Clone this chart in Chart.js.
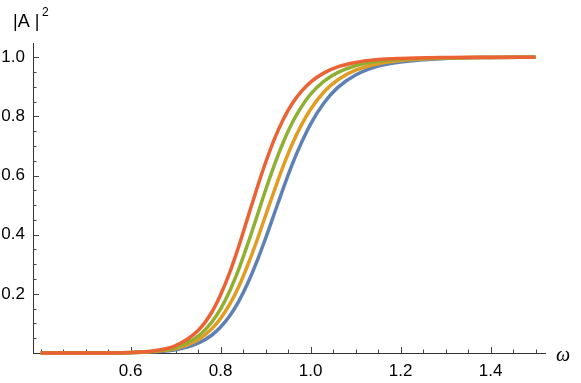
<!DOCTYPE html>
<html>
<head>
<meta charset="utf-8">
<script src="https://cdn.jsdelivr.net/npm/chart.js@4.4.1/dist/chart.umd.min.js"></script>
<style>
  body { margin: 0; background: #fff; }
  canvas { display: block; }
</style>
</head>
<body>
<canvas id="myChart" width="581" height="383"></canvas>
<script>
const omega = [0.40, 0.50, 0.60, 0.65, 0.70, 0.75, 0.78, 0.80, 0.82, 0.84, 0.86, 0.88, 0.90,
  0.92, 0.94, 0.96, 0.98, 1.00, 1.03, 1.06, 1.10, 1.15, 1.20, 1.30, 1.40, 1.50];

const blueVals = [0.000, 0.000, 0.001, 0.004, 0.011, 0.033, 0.060, 0.088, 0.125, 0.174, 0.235, 0.307, 0.388,
  0.474, 0.560, 0.641, 0.712, 0.774, 0.846, 0.897, 0.940, 0.970, 0.984, 0.996, 0.999, 1.000];
const orangeVals = [0.000, 0.000, 0.001, 0.005, 0.015, 0.045, 0.081, 0.117, 0.164, 0.223, 0.296, 0.377, 0.465,
  0.552, 0.635, 0.709, 0.772, 0.824, 0.883, 0.923, 0.956, 0.978, 0.989, 0.997, 0.999, 1.000];
const greenVals = [0.000, 0.000, 0.002, 0.006, 0.019, 0.057, 0.104, 0.149, 0.209, 0.282, 0.367, 0.458, 0.551,
  0.638, 0.715, 0.781, 0.833, 0.875, 0.919, 0.948, 0.971, 0.986, 0.993, 0.998, 0.999, 1.000];
const redVals = [0.000, 0.000, 0.002, 0.007, 0.025, 0.076, 0.137, 0.197, 0.271, 0.359, 0.456, 0.553, 0.644,
  0.725, 0.792, 0.845, 0.885, 0.916, 0.947, 0.967, 0.982, 0.992, 0.996, 0.999, 1.000, 1.000];

const xMajorTicks = [0.6, 0.8, 1.0, 1.2, 1.4];
const xMinorTicks = [0.40, 0.45, 0.50, 0.55, 0.65, 0.70, 0.75, 0.85, 0.90, 0.95, 1.05, 1.10, 1.15,
  1.25, 1.30, 1.35, 1.45, 1.50];
const yMajorTicks = [0.2, 0.4, 0.6, 0.8, 1.0];
const yMinorTicks = [0.05, 0.10, 0.15, 0.25, 0.30, 0.35, 0.45, 0.50, 0.55, 0.65, 0.70, 0.75,
  0.85, 0.90, 0.95];

function toPoints(vals) {
  return omega.map((w, i) => ({ x: w, y: vals[i] }));
}

function lineSet(label, vals, color) {
  return {
    label: label,
    data: toPoints(vals),
    borderColor: color,
    borderWidth: 3.5,
    pointRadius: 0,
    fill: false,
    cubicInterpolationMode: 'monotone',
    clip: false
  };
}

// inward ticks like Mathematica axes + axis labels
const axisExtras = {
  id: 'axisExtras',
  beforeDatasetsDraw(chart) {
    const ctx = chart.ctx;
    const xs = chart.scales.x;
    const ys = chart.scales.y;
    const x0 = xs.left;
    const y0 = ys.bottom;
    ctx.save();
    ctx.strokeStyle = '#444';
    ctx.lineWidth = 1;
    ctx.beginPath();
    xMajorTicks.forEach(v => {
      const px = Math.round(xs.getPixelForValue(v)) + 0.5;
      ctx.moveTo(px, y0); ctx.lineTo(px, y0 - 6);
    });
    xMinorTicks.forEach(v => {
      const px = Math.round(xs.getPixelForValue(v)) + 0.5;
      ctx.moveTo(px, y0); ctx.lineTo(px, y0 - 3.5);
    });
    yMajorTicks.forEach(v => {
      const py = Math.round(ys.getPixelForValue(v)) + 0.5;
      ctx.moveTo(x0, py); ctx.lineTo(x0 + 6, py);
    });
    yMinorTicks.forEach(v => {
      const py = Math.round(ys.getPixelForValue(v)) + 0.5;
      ctx.moveTo(x0, py); ctx.lineTo(x0 + 3.5, py);
    });
    ctx.stroke();
    ctx.restore();
  },
  afterDraw(chart) {
    const ctx = chart.ctx;
    ctx.save();
    ctx.fillStyle = '#000';
    ctx.textBaseline = 'alphabetic';
    ctx.textAlign = 'left';
    ctx.font = '18px "Liberation Sans", Arial, sans-serif';
    ctx.fillText('|A |', 13, 27);
    ctx.font = '12px "Liberation Sans", Arial, sans-serif';
    ctx.fillText('2', 42, 16);
    ctx.font = 'italic 20px "Liberation Serif", "DejaVu Serif", serif';
    ctx.fillText('\u03C9', 556, 361);
    ctx.restore();
  }
};

const config = {
  type: 'line',
  data: {
    datasets: [
      lineSet('red', redVals, '#EB6235'),
      lineSet('green', greenVals, '#8FB032'),
      lineSet('orange', orangeVals, '#E19C24'),
      lineSet('blue', blueVals, '#5E81B5')
    ]
  },
  options: {
    responsive: false,
    animation: false,
    layout: { padding: { left: 0, right: 36, top: 43, bottom: 0 } },
    plugins: { legend: { display: false }, tooltip: { enabled: false } },
    scales: {
      x: {
        type: 'linear',
        min: 0.383,
        max: 1.521,
        afterBuildTicks: function (scale) {
          scale.ticks = xMajorTicks.map(v => ({ value: v }));
        },
        afterFit: function (scale) { scale.height = 30; },
        ticks: {
          color: '#000',
          padding: 8,
          maxRotation: 0,
          font: { family: '"Liberation Sans", Arial, sans-serif', size: 17 },
          callback: v => v.toFixed(1)
        },
        grid: { display: true, drawOnChartArea: false, drawTicks: false },
        border: { display: true, color: '#333', width: 1 }
      },
      y: {
        type: 'linear',
        min: 0,
        max: 1.048,
        afterBuildTicks: function (scale) {
          scale.ticks = yMajorTicks.map(v => ({ value: v }));
        },
        afterFit: function (scale) { scale.width = 33; },
        ticks: {
          color: '#000',
          padding: 8,
          font: { family: '"Liberation Sans", Arial, sans-serif', size: 17 },
          callback: v => v.toFixed(1)
        },
        grid: { display: true, drawOnChartArea: false, drawTicks: false },
        border: { display: true, color: '#333', width: 1 }
      }
    }
  },
  plugins: [axisExtras]
};

const myChart = new Chart(document.getElementById('myChart'), config);
</script>
</body>
</html>
